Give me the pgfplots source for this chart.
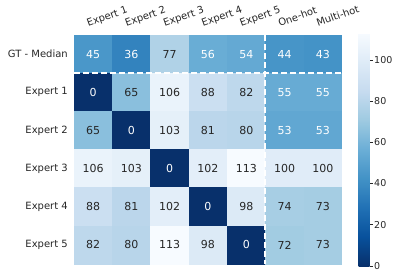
\documentclass[border=0pt]{standalone}
\usepackage{fontspec}
\setmainfont{DejaVu Sans}
\usepackage{pgfplots}
\usepackage{pgfplotstable}
\pgfplotsset{compat=1.18}
\pgfplotsset{/pgf/number format/assume math mode=true}
\definecolor{txt}{HTML}{262626}

\pgfplotstableread{
x y C
0 0 45
1 0 36
2 0 77
3 0 56
4 0 54
5 0 44
6 0 43
0 1 0
1 1 65
2 1 106
3 1 88
4 1 82
5 1 55
6 1 55
0 2 65
1 2 0
2 2 103
3 2 81
4 2 80
5 2 53
6 2 53
0 3 106
1 3 103
2 3 0
3 3 102
4 3 113
5 3 100
6 3 100
0 4 88
1 4 81
2 4 102
3 4 0
4 4 98
5 4 74
6 4 73
0 5 82
1 5 80
2 5 113
3 5 98
4 5 0
5 5 72
6 5 73
}\heat

% labels on dark cells (white text)
\pgfplotstableread{
x y C
0 0 45
1 0 36
3 0 56
4 0 54
5 0 44
6 0 43
0 1 0
5 1 55
6 1 55
1 2 0
5 2 53
6 2 53
2 3 0
3 4 0
4 5 0
}\darkcells

% labels on light cells (dark text)
\pgfplotstableread{
x y C
2 0 77
1 1 65
2 1 106
3 1 88
4 1 82
0 2 65
2 2 103
3 2 81
4 2 80
0 3 106
1 3 103
3 3 102
4 3 113
5 3 100
6 3 100
0 4 88
1 4 81
2 4 102
4 4 98
5 4 74
6 4 73
0 5 82
1 5 80
2 5 113
3 5 98
5 5 72
6 5 73
}\lightcells

\begin{document}
\begin{tikzpicture}
\begin{axis}[
  name=ax,
  scale only axis, width=268pt, height=229pt,
  xmin=-0.5, xmax=6.5, ymin=-0.5, ymax=5.5, y dir=reverse,
  axis line style={draw=none}, tick style={draw=none},
  xtick={0,...,6},
  xticklabels={Expert 1,Expert 2,Expert 3,Expert 4,Expert 5,One-hot,Multi-hot},
  xticklabel pos=upper,
  xticklabel style={anchor=base west, inner sep=0pt, xshift=-5pt, yshift=8pt, rotate=20},
  ytick={0,...,5},
  yticklabels={GT - Median,Expert 1,Expert 2,Expert 3,Expert 4,Expert 5},
  yticklabel style={anchor=east, inner sep=0pt, xshift=-6pt},
  ticklabel style={font=\fontsize{10}{12}\selectfont, text=txt},
  colormap={bluesr}{rgb255=(8,48,107) rgb255=(8,81,156) rgb255=(33,113,181) rgb255=(66,146,198) rgb255=(107,174,214) rgb255=(158,202,225) rgb255=(198,219,239) rgb255=(222,235,247) rgb255=(247,251,255)},
  point meta min=0, point meta max=113,
  colorbar,
  colorbar style={
    at={(parent axis.north east)}, anchor=north west, xshift=8pt, yshift=2pt,
    width=11pt, height=233pt, y dir=normal,
    axis line style={draw=none},
    ytick={0,20,...,100},
    ytick style={draw=txt, line width=0.6pt},
    major tick length=3pt, tick align=outside,
    ytick pos=right, yticklabel pos=right,
    yticklabel style={font=\fontsize{9.5}{11}\selectfont, text=txt, inner sep=0pt, anchor=west, xshift=1.5pt},
  },
]
\addplot[matrix plot*, mesh/cols=7, point meta=explicit] table[meta=C] {\heat};
\addplot[only marks, mark=none, point meta=explicit symbolic,
  nodes near coords,
  every node near coord/.append style={anchor=center, text=white, font=\fontsize{11}{13}\selectfont}]
  table[meta=C] {\darkcells};
\addplot[only marks, mark=none, point meta=explicit symbolic,
  nodes near coords,
  every node near coord/.append style={anchor=center, text=txt, font=\fontsize{11}{13}\selectfont}]
  table[meta=C] {\lightcells};
\addplot[white, line width=2pt, dash pattern=on 6pt off 3pt] coordinates {(-0.5,0.5) (6.5,0.5)};
\addplot[white, line width=2pt, dash pattern=on 6pt off 3pt] coordinates {(4.5,-0.5) (4.5,5.5)};
\end{axis}
\pgfresetboundingbox
\path ([shift={(-74pt,-14pt)}]ax.south west) rectangle +(399pt,278pt);
\end{tikzpicture}
\end{document}
